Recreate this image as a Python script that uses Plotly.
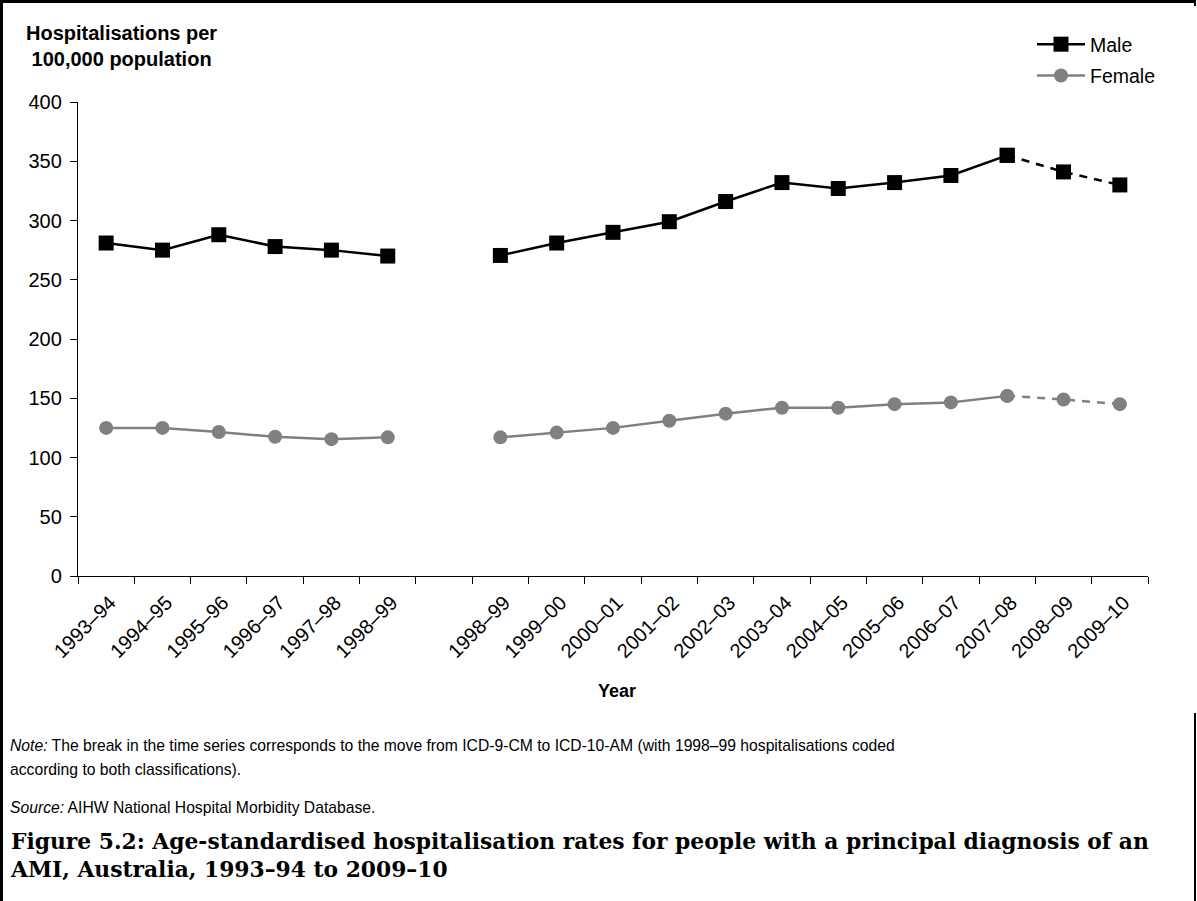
import plotly.graph_objects as go

# Financial-year periods on either side of the ICD-9-CM -> ICD-10-AM break
periods_icd9 = ["1993–94", "1994–95", "1995–96", "1996–97", "1997–98", "1998–99"]
periods_icd10 = ["1998–99", "1999–00", "2000–01", "2001–02", "2002–03", "2003–04",
                 "2004–05", "2005–06", "2006–07", "2007–08", "2008–09", "2009–10"]

# Age-standardised hospitalisations per 100,000 population
male_icd9 = [281, 275, 288, 278, 275, 270]
male_icd10 = [270.5, 281, 290, 299, 316, 332, 327, 332, 338, 355, 341, 330]
female_icd9 = [125, 125, 121.5, 117.5, 115.5, 117]
female_icd10 = [117, 121, 125, 131, 137, 142, 142, 145, 146.5, 152, 149, 145]

# Number of trailing ICD-10 periods joined with a dashed line
n_dashed = 2

y_ticks = [0, 50, 100, 150, 200, 250, 300, 350, 400]

# Slot positions: ICD-9 periods, one empty slot, then ICD-10 periods
x9 = list(range(len(periods_icd9)))
gap = len(periods_icd9)
x10 = [gap + 1 + i for i in range(len(periods_icd10))]
n_slots = len(periods_icd9) + 1 + len(periods_icd10)
tick_text = periods_icd9 + [""] + periods_icd10
tick_pos = x9 + [gap] + x10

MALE = "#000000"
FEMALE = "#808080"
FONT = "Liberation Sans, Arial, sans-serif"
NARROW = "Liberation Sans Narrow, Arial Narrow, Liberation Sans, sans-serif"

fig = go.Figure()


def add_series(name, colour, symbol, size, v9, v10):
    solid_x = x9 + [None] + x10[:len(x10) - n_dashed]
    solid_y = v9 + [None] + v10[:len(v10) - n_dashed]
    dash_x = x10[len(x10) - n_dashed - 1:]
    dash_y = v10[len(v10) - n_dashed - 1:]
    fig.add_trace(go.Scatter(
        x=dash_x, y=dash_y, mode="lines+markers", name=name, showlegend=False,
        line=dict(color=colour, width=2.5, dash="8px,7px"),
        marker=dict(symbol=symbol, size=size, color=colour),
        hoverinfo="skip"))
    fig.add_trace(go.Scatter(
        x=solid_x, y=solid_y, mode="lines+markers", name=name, legendgroup=name,
        line=dict(color=colour, width=2.5),
        marker=dict(symbol=symbol, size=size, color=colour),
        connectgaps=False))


add_series("Male", MALE, "square", 15, male_icd9, male_icd10)
add_series("Female", FEMALE, "circle", 14, female_icd9, female_icd10)

# Edge ticks sit on slot boundaries; labels sit on slot centres (overlay axis)
boundaries = [i - 0.5 for i in range(n_slots + 1)]

W, H = 1197, 901
L, R, T, B = 78, 1148, 102, 576


def px(xp):
    return (xp - L) / (R - L)


def py(yp):
    return (B - yp) / (B - T)


shapes = [
    # page frame
    dict(type="line", xref="paper", yref="paper", x0=px(1.5), x1=px(1.5), y0=py(0), y1=py(901),
         line=dict(color="black", width=3)),
    dict(type="line", xref="paper", yref="paper", x0=px(0), x1=px(1196), y0=py(1.5), y1=py(1.5),
         line=dict(color="black", width=3)),
    dict(type="line", xref="paper", yref="paper", x0=px(1195), x1=px(1195), y0=py(0), y1=py(6),
         line=dict(color="black", width=2)),
    dict(type="line", xref="paper", yref="paper", x0=px(1195), x1=px(1195), y0=py(713), y1=py(901),
         line=dict(color="black", width=2)),
]

annotations = [
    dict(text="<b>Hospitalisations per<br>100,000 population</b>", xref="paper", yref="paper",
         x=px(121), y=py(20), xanchor="center", yanchor="top", showarrow=False, align="center",
         font=dict(family=FONT, size=20, color="black")),
    dict(text="<b>Year</b>", xref="paper", yref="paper", x=px(617), y=py(691),
         xanchor="center", yanchor="middle", showarrow=False,
         font=dict(family=FONT, size=18, color="black")),
    dict(text="<i>Note:</i> The break in the time series corresponds to the move from ICD-9-CM to "
              "ICD-10-AM (with 1998–99 hospitalisations coded",
         xref="paper", yref="paper", x=px(8), y=py(745), xanchor="left", yanchor="middle",
         showarrow=False, align="left",
         font=dict(family=NARROW, size=15.7, color="black")),
    dict(text="according to both classifications).",
         xref="paper", yref="paper", x=px(8), y=py(769), xanchor="left", yanchor="middle",
         showarrow=False, align="left",
         font=dict(family=NARROW, size=15.7, color="black")),
    dict(text="<i>Source:</i> AIHW National Hospital Morbidity Database.",
         xref="paper", yref="paper", x=px(8), y=py(807), xanchor="left", yanchor="middle",
         showarrow=False, align="left",
         font=dict(family=NARROW, size=15.7, color="black")),
    dict(text="<b>Figure 5.2: Age-standardised hospitalisation rates for people with a principal "
              "diagnosis of an<br>AMI, Australia, 1993–94 to 2009–10</b>",
         xref="paper", yref="paper", x=px(8), y=py(827), xanchor="left", yanchor="top",
         showarrow=False, align="left",
         font=dict(family="DejaVu Serif, serif", size=21.8, color="black")),
]

fig.update_layout(
    width=W, height=H,
    margin=dict(l=L, r=W - R, t=T, b=H - B, pad=0, autoexpand=False),
    paper_bgcolor="white", plot_bgcolor="white",
    font=dict(family=FONT, color="black"),
    showlegend=True,
    legend=dict(x=px(1032), y=py(25), xanchor="left", yanchor="top",
                bgcolor="rgba(0,0,0,0)",
                font=dict(family=FONT, size=19.5, color="black"),
                tracegroupgap=3, itemwidth=48),
    xaxis=dict(range=[-0.5, n_slots - 0.5], tickmode="array", tickvals=boundaries,
               showticklabels=False, ticks="outside", ticklen=7, tickwidth=1.3,
               tickcolor="black", showline=True, linecolor="black", linewidth=1.3,
               showgrid=False, zeroline=False, fixedrange=True),
    xaxis2=dict(range=[-0.5, n_slots - 0.5], overlaying="x", side="bottom",
                tickmode="array", tickvals=tick_pos, ticktext=tick_text, tickangle=-45,
                ticks="", showline=False, showgrid=False, zeroline=False,
                ticklabelstandoff=10, ticklabelshift=4,
                tickfont=dict(family=FONT, size=20, color="black"), fixedrange=True),
    yaxis=dict(range=[0, 400], tickmode="array", tickvals=y_ticks, ticks="outside",
               ticklen=7, tickwidth=1.3, tickcolor="black", showline=True,
               linecolor="black", linewidth=1.3, showgrid=False, zeroline=False,
               ticklabelstandoff=4,
               tickfont=dict(family=FONT, size=20, color="black"), fixedrange=True),
    shapes=shapes,
    annotations=annotations,
)

# an invisible trace carries the label axis
fig.add_trace(go.Scatter(x=tick_pos, y=[None] * len(tick_pos), xaxis="x2",
                         showlegend=False, hoverinfo="skip"))

fig.write_html("out.html")
